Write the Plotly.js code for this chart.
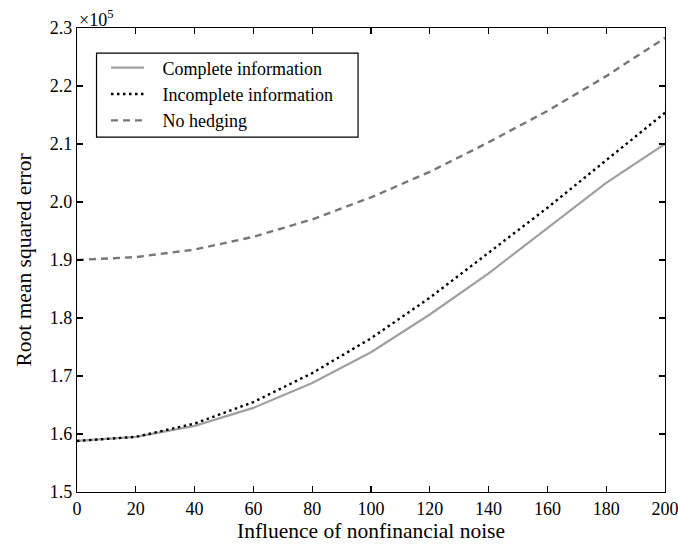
<!DOCTYPE html>
<html>
<head>
<meta charset="utf-8">
<script src="https://cdn.plot.ly/plotly-3.0.1.min.js"></script>
<style>html,body{margin:0;padding:0;background:#fff;}#chart{width:678px;height:548px;}</style>
</head>
<body>
<div id="chart"></div>
<script>
const noise = [0, 20, 40, 60, 80, 100, 120, 140, 160, 180, 200];
// values in units of 10^5
const complete = [1.588, 1.595, 1.614, 1.645, 1.688, 1.741, 1.806, 1.877, 1.955, 2.033, 2.100];
const incomplete = [1.588, 1.595, 1.618, 1.655, 1.705, 1.765, 1.835, 1.912, 1.99, 2.072, 2.154];
const noHedging = [1.900, 1.905, 1.918, 1.940, 1.970, 2.008, 2.052, 2.103, 2.157, 2.217, 2.283];
const seriesNames = ["Complete information", "Incomplete information", "No hedging"];
const xTicks = [0, 20, 40, 60, 80, 100, 120, 140, 160, 180, 200];
const yTicks = [1.5, 1.6, 1.7, 1.8, 1.9, 2.0, 2.1, 2.2, 2.3];

const font = "Liberation Serif, Times New Roman, serif";
const pad = "\u00a0\u00a0\u00a0";
const traces = [
  {x: noise, y: complete, name: pad + seriesNames[0], mode: "lines",
   line: {color: "#a0a0a0", width: 2.2, dash: "solid"}},
  {x: noise, y: incomplete, name: pad + seriesNames[1], mode: "lines",
   line: {color: "#000000", width: 2.4, dash: "2.5px,3.5px"}},
  {x: noise, y: noHedging, name: pad + seriesNames[2], mode: "lines",
   line: {color: "#777777", width: 2.4, dash: "7px,5px"}}
];
const axisCommon = {
  showline: true, linecolor: "#000", linewidth: 1.2, mirror: "ticks",
  ticks: "inside", ticklen: 6, tickcolor: "#000", tickwidth: 1.2,
  showgrid: false, zeroline: false, ticklabeloverflow: "allow",
  tickfont: {family: font, size: 18, color: "#000"}
};
const layout = {
  width: 678, height: 548,
  margin: {l: 77, r: 13, t: 28, b: 56},
  paper_bgcolor: "#fff", plot_bgcolor: "#fff",
  font: {family: font, color: "#000"},
  showlegend: true,
  legend: {x: 0.0493, y: 0.954, xanchor: "left", yanchor: "top",
    borderwidth: 0, bgcolor: "rgba(0,0,0,0)", itemwidth: 33,
    font: {family: font, size: 18, color: "#000"}, tracegroupgap: 0},
  xaxis: Object.assign({}, axisCommon, {
    range: [0, 200], tickvals: xTicks, ticktext: xTicks.map(String),
    title: {text: "Influence of nonfinancial noise", font: {family: font, size: 21.5, color: "#000"}, standoff: 4}
  }),
  yaxis: Object.assign({}, axisCommon, {
    range: [1.5, 2.3], tickvals: yTicks, ticktext: yTicks.map(v => v.toFixed(1)),
    title: {text: "Root mean squared error", font: {family: font, size: 21.5, color: "#000"}, standoff: 12}
  }),
  shapes: [{
    type: "rect", xref: "paper", yref: "paper",
    x0: 0.0332, x1: 0.478, y0: 0.765, y1: 0.946,
    line: {color: "#000", width: 1.2}, fillcolor: "rgba(0,0,0,0)", layer: "above"
  }],
  annotations: [{
    xref: "paper", yref: "paper", x: 0.0, y: 1.0, xanchor: "left", yanchor: "bottom",
    text: "×10<sup>5</sup>", showarrow: false, font: {family: font, size: 18, color: "#000"}, yshift: -4
  }]
};
Plotly.newPlot("chart", traces, layout, {displayModeBar: false, staticPlot: true});
</script>
</body>
</html>
